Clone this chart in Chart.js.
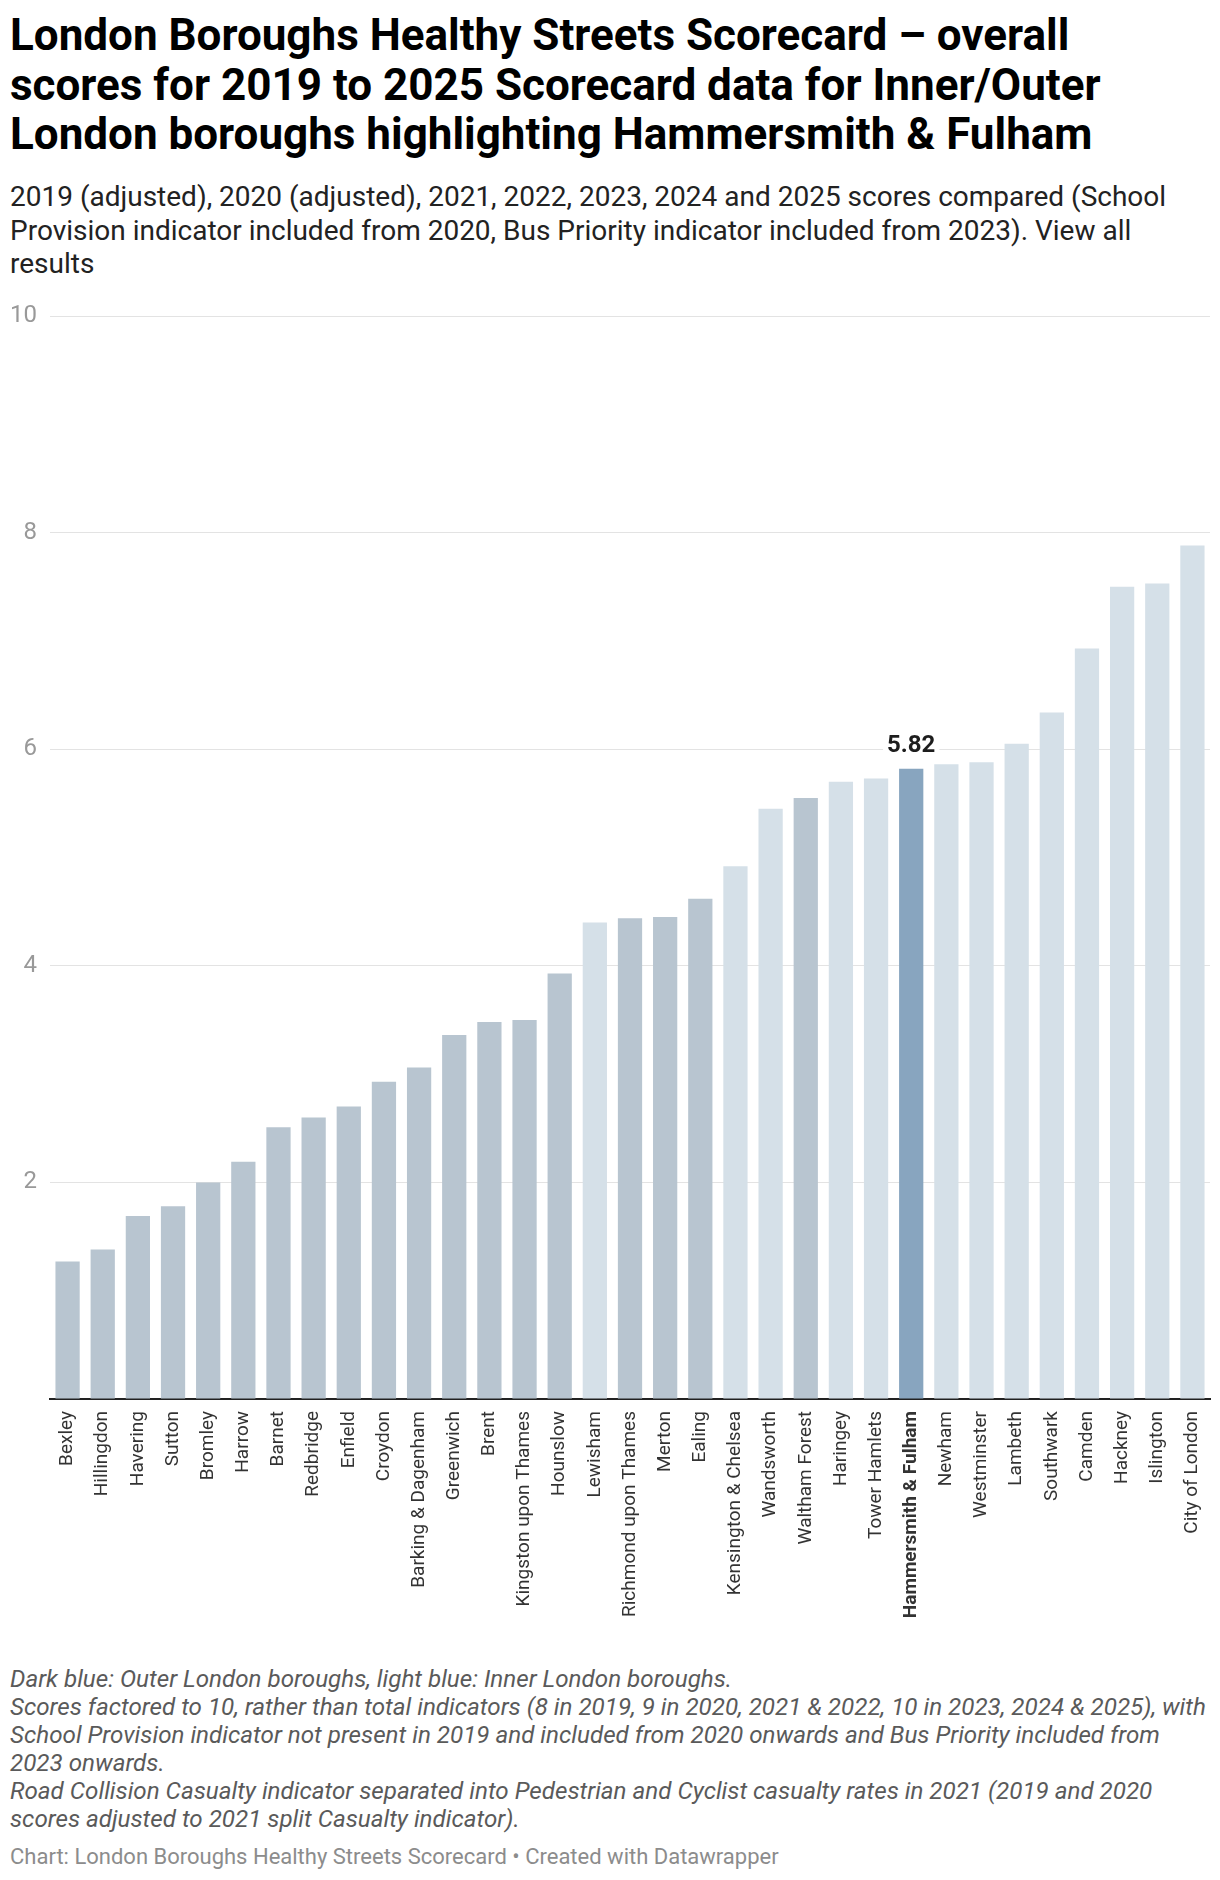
<!DOCTYPE html>
<html>
<head>
<meta charset="utf-8">
<script src="https://cdn.jsdelivr.net/npm/chart.js@4.4.1/dist/chart.umd.min.js"></script>
<style>
  body { margin: 0; background: #fff; width: 1220px; height: 1880px; position: relative; font-family: Roboto, sans-serif; overflow: hidden; }
  #title { position: absolute; left: 10px; top: 11px; font-weight: 700; font-size: 44px; line-height: 49.5px; color: #000; white-space: nowrap; }
  #subtitle { position: absolute; left: 10px; top: 180px; font-size: 28px; line-height: 33.5px; color: #222; white-space: nowrap; }
  #chartBox { position: absolute; left: 0; top: 280px; width: 1220px; height: 1349px; }
  #notes { position: absolute; left: 10px; top: 1665px; font-size: 24.2px; line-height: 28px; font-style: italic; color: #5a5a5a; white-space: nowrap; }
  #source { position: absolute; left: 10px; top: 1845px; font-size: 22px; line-height: 24px; color: #8c8c8c; white-space: nowrap; }
</style>
</head>
<body>
<div id="title">London Boroughs Healthy Streets Scorecard – overall<br>scores for 2019 to 2025 Scorecard data for Inner/Outer<br>London boroughs highlighting Hammersmith &amp; Fulham</div>
<div id="subtitle">2019 (adjusted), 2020 (adjusted), 2021, 2022, 2023, 2024 and 2025 scores compared (School<br>Provision indicator included from 2020, Bus Priority indicator included from 2023). View all<br>results</div>
<div id="chartBox"><canvas id="scoreChart" width="1220" height="1349"></canvas></div>
<div id="notes">Dark blue: Outer London boroughs, light blue: Inner London boroughs.<br>Scores factored to 10, rather than total indicators (8 in 2019, 9 in 2020, 2021 &amp; 2022, 10 in 2023, 2024 &amp; 2025), with<br>School Provision indicator not present in 2019 and included from 2020 onwards and Bus Priority included from<br>2023 onwards.<br>Road Collision Casualty indicator separated into Pedestrian and Cyclist casualty rates in 2021 (2019 and 2020<br>scores adjusted to 2021 split Casualty indicator).</div>
<div id="source">Chart: London Boroughs Healthy Streets Scorecard • Created with Datawrapper</div>

<script>
var boroughs = [
  "Bexley", "Hillingdon", "Havering", "Sutton", "Bromley", "Harrow", "Barnet",
  "Redbridge", "Enfield", "Croydon", "Barking & Dagenham", "Greenwich", "Brent",
  "Kingston upon Thames", "Hounslow", "Lewisham", "Richmond upon Thames", "Merton",
  "Ealing", "Kensington & Chelsea", "Wandsworth", "Waltham Forest", "Haringey",
  "Tower Hamlets", "Hammersmith & Fulham", "Newham", "Westminster", "Lambeth",
  "Southwark", "Camden", "Hackney", "Islington", "City of London"
];
var scores = [
  1.27, 1.38, 1.69, 1.78, 2.00, 2.19, 2.51,
  2.60, 2.70, 2.93, 3.06, 3.36, 3.48,
  3.50, 3.93, 4.40, 4.44, 4.45,
  4.62, 4.92, 5.45, 5.55, 5.70,
  5.73, 5.82, 5.86, 5.88, 6.05,
  6.34, 6.93, 7.50, 7.53, 7.88
];
var area = [
  "outer", "outer", "outer", "outer", "outer", "outer", "outer",
  "outer", "outer", "outer", "outer", "outer", "outer",
  "outer", "outer", "inner", "outer", "outer",
  "outer", "inner", "inner", "outer", "inner",
  "inner", "inner", "inner", "inner", "inner",
  "inner", "inner", "inner", "inner", "inner"
];
var highlight = "Hammersmith & Fulham";
var yTicks = [2, 4, 6, 8, 10];

var colours = { outer: "#b8c5d0", inner: "#d5e0e8", highlight: "#88a5bf" };

var barColours = boroughs.map(function (name, i) {
  return name === highlight ? colours.highlight : colours[area[i]];
});

// white-backed label over the highlighted bar
var valueLabel = {
  id: "valueLabel",
  afterDatasetsDraw: function (chart) {
    var i = boroughs.indexOf(highlight);
    var bar = chart.getDatasetMeta(0).data[i];
    var ctx = chart.ctx;
    var text = scores[i].toFixed(2);
    ctx.save();
    ctx.font = "bold 24px Roboto";
    var w = ctx.measureText(text).width;
    ctx.fillStyle = "#fff";
    ctx.fillRect(bar.x - w / 2 - 4, bar.y - 37, w + 8, 28);
    ctx.fillStyle = "#1d1d1d";
    ctx.textAlign = "center";
    ctx.textBaseline = "middle";
    ctx.fillText(text, bar.x, bar.y - 23);
    ctx.restore();
  }
};

var scoreChart = new Chart(document.getElementById("scoreChart").getContext("2d"), {
  type: "bar",
  data: {
    labels: boroughs,
    datasets: [
      {
        label: "Overall score",
        data: scores,
        backgroundColor: barColours,
        borderWidth: 0,
        barPercentage: 0.69,
        categoryPercentage: 1.0
      }
    ]
  },
  options: {
    responsive: false,
    devicePixelRatio: 1,
    animation: false,
    layout: { padding: { top: 36, right: 10, left: 0, bottom: 0 } },
    plugins: {
      legend: { display: false },
      tooltip: { enabled: false }
    },
    scales: {
      x: {
        grid: { display: false, drawTicks: false },
        border: { display: true, color: "#222", width: 2 },
        ticks: {
          autoSkip: false,
          maxRotation: 90,
          minRotation: 90,
          padding: 12,
          color: "#333",
          font: function (ctx) {
            return {
              family: "Roboto",
              size: 19,
              weight: boroughs[ctx.index] === highlight ? "bold" : "normal"
            };
          }
        },
        afterFit: function (scale) {
          scale.height = 230;
          scale.paddingLeft = 0;
          scale.paddingRight = 0;
        }
      },
      y: {
        min: 0,
        max: 10,
        afterBuildTicks: function (scale) {
          scale.ticks = [{ value: 0 }].concat(yTicks.map(function (v) { return { value: v }; }));
        },
        ticks: {
          padding: 13,
          color: "#999",
          font: { family: "Roboto", size: 24 },
          callback: function (v) { return v === 0 ? "" : v; }
        },
        grid: {
          drawTicks: false,
          lineWidth: 1,
          color: function (ctx) {
            return ctx.tick && ctx.tick.value === 0 ? "rgba(0,0,0,0)" : "#e3e3e3";
          }
        },
        border: { display: false },
        afterFit: function (scale) { scale.width = 50; }
      }
    }
  },
  plugins: [valueLabel]
});
</script>
</body>
</html>
